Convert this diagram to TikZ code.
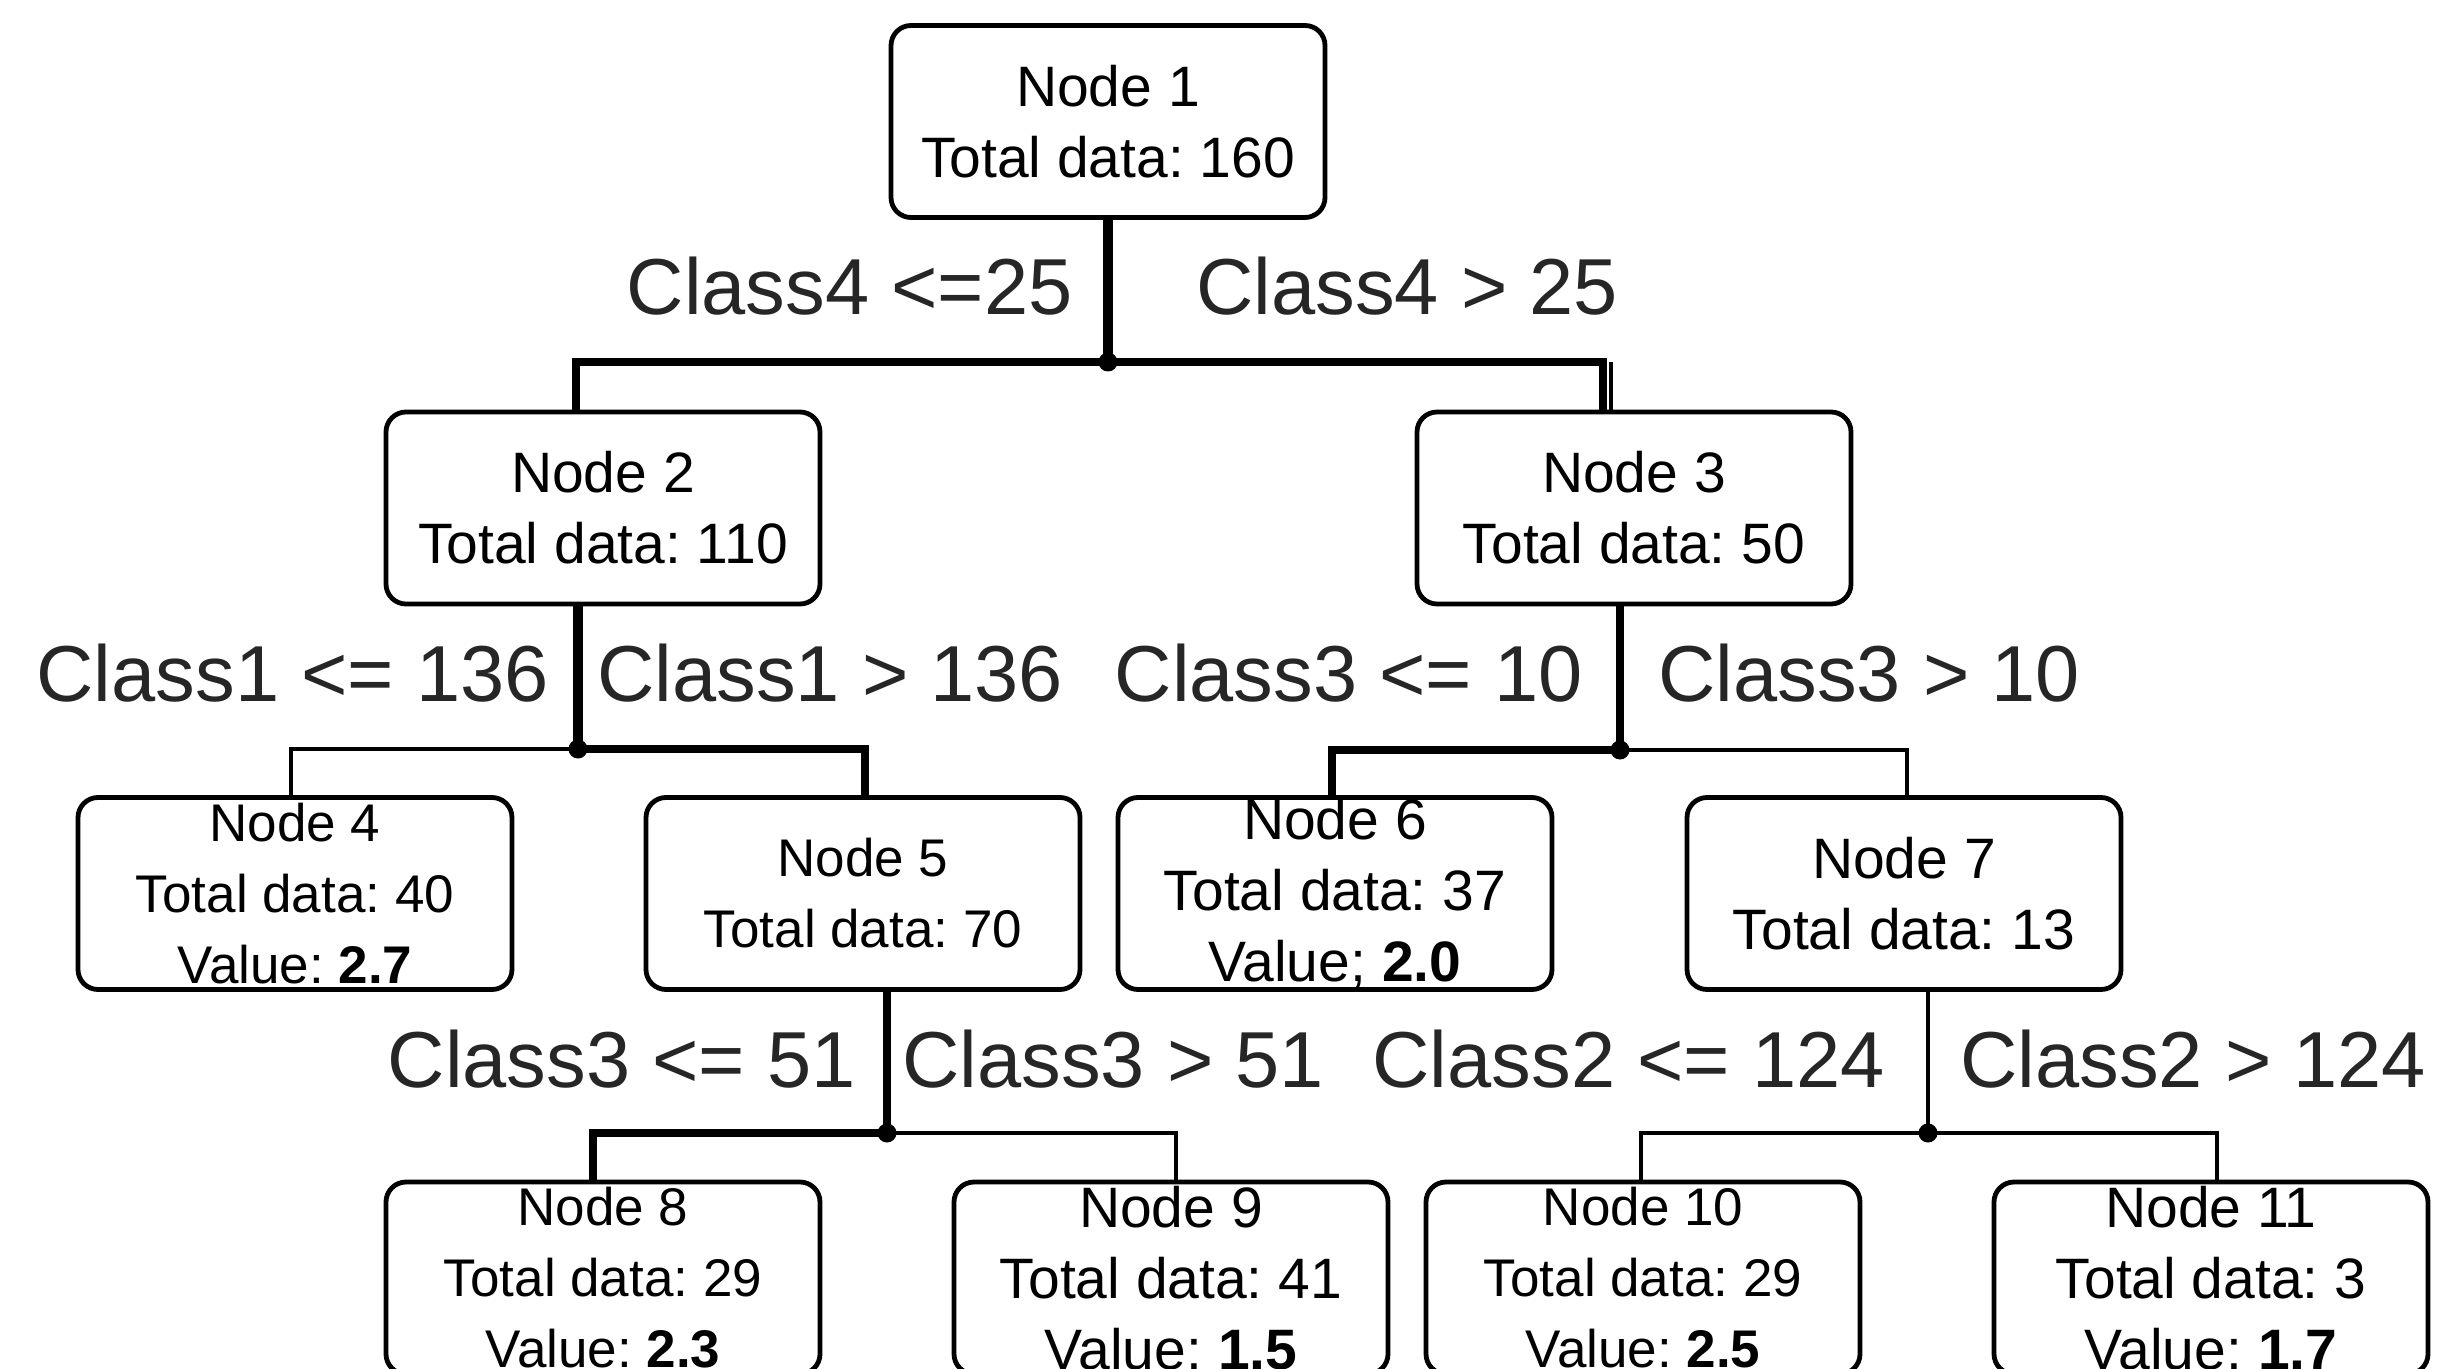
\documentclass[tikz,border=0pt]{standalone}
\usepackage{fontspec}
\setmainfont{Liberation Sans}
\frenchspacing
\begin{document}
\begin{tikzpicture}[x=0.5pt,y=-0.5pt,
  treenode/.style={draw=black, line width=2.4pt, rounded corners=10pt, fill=white,
    minimum width=217pt, minimum height=96pt, inner sep=0pt, align=center,
    font=\fontsize{28.5}{35.5}\selectfont},
  smalltext/.style={font=\fontsize{26.5}{35.5}\selectfont},
  split/.style={inner sep=0pt, text=black!85, font=\fontsize{39.7}{48}\selectfont},
  stem/.style={line width=4.8pt},
  heavy/.style={line width=4.4pt, line cap=butt},
  light/.style={line width=2.2pt},
  joint/.style={fill=black},
]
\clip (0,0) rectangle (2439,1369);
\fill[white] (0,0) rectangle (2439,1369);

% tree nodes
\node[treenode] (n1)  at (1108,121.5) {Node 1\\Total data: 160};
\node[treenode] (n2)  at (603,508)    {Node 2\\Total data: 110};
\node[treenode] (n3)  at (1634,508)   {Node 3\\Total data: 50};
\node[treenode, smalltext] (n4)  at (295,893.5)  {Node 4\\Total data: 40\\Value: \textbf{2.7}};
\node[treenode, smalltext] (n5)  at (863,893.5)  {Node 5\\Total data: 70};
\node[treenode] (n6)  at (1335,893.5) {Node 6\\Total data: 37\\Value; \textbf{2.0}};
\node[treenode] (n7)  at (1904,893.5) {Node 7\\Total data: 13};
\node[treenode, smalltext] (n8)  at (603,1278)   {Node 8\\Total data: 29\\Value: \textbf{2.3}};
\node[treenode] (n9)  at (1171,1278)  {Node 9\\Total data: 41\\Value: \textbf{1.5}};
\node[treenode, smalltext] (n10) at (1643,1278)  {Node 10\\Total data: 29\\Value: \textbf{2.5}};
\node[treenode] (n11) at (2211,1278)  {Node 11\\Total data: 3\\Value: \textbf{1.7}};

% junction points and drop columns
\coordinate (j1) at (1108,362);
\coordinate (j2) at (578,749);
\coordinate (j3) at (1620,750);
\coordinate (j5) at (887,1133);
\coordinate (j7) at (1928,1133);
\coordinate (d2) at (576,0);
\coordinate (d3) at (1603,0);
\coordinate (d3b) at (1611,0);
\coordinate (d4) at (291,0);
\coordinate (d5) at (865,0);
\coordinate (d6) at (1332,0);
\coordinate (d7) at (1907,0);
\coordinate (d8) at (593,0);
\coordinate (d9) at (1176,0);
\coordinate (d10) at (1641,0);
\coordinate (d11) at (2217,0);

% level 1
\draw[stem] (n1.south) -- (j1);
\draw[heavy] (j1) -| (d2 |- n2.north);
\draw[heavy] (j1) -| (d3 |- n3.north);
\draw[light] (d3b |- j1) -- (d3b |- n3.north);
\fill[joint] (j1) circle[radius=4.75pt];

% level 2, left
\draw[stem] (j2 |- n2.south) -- (j2);
\draw[light] (j2) -| (d4 |- n4.north);
\draw[heavy] (j2) -| (d5 |- n5.north);
\fill[joint] (j2) circle[radius=4.75pt];

% level 2, right
\draw[line width=4.3pt] (j3 |- n3.south) -- (j3);
\draw[heavy] (j3) -| (d6 |- n6.north);
\draw[light] (j3) -| (d7 |- n7.north);
\fill[joint] (j3) circle[radius=4.75pt];

% level 3, left
\draw[line width=4.3pt] (j5 |- n5.south) -- (j5);
\draw[heavy] (j5) -| (d8 |- n8.north);
\draw[light] (j5) -| (d9 |- n9.north);
\fill[joint] (j5) circle[radius=4.75pt];

% level 3, right
\draw[light] (j7 |- n7.south) -- (j7);
\draw[light] (j7) -| (d10 |- n10.north);
\draw[light] (j7) -| (d11 |- n11.north);
\fill[joint] (j7) circle[radius=4.75pt];

% split conditions
\node[split, anchor=base east] (c1l) at (1073,315) {Class4 <=25};
\node[split, anchor=base west] (c1r) at (1196,315) {Class4 > 25};
\node[split, anchor=base east] (c2l) at (549,701) {Class1 <= 136};
\node[split, anchor=base west] (c2r) at (597,701) {Class1 > 136};
\node[split, anchor=base east] (c3l) at (1583,701) {Class3 <= 10};
\node[split, anchor=base west] (c3r) at (1658,701) {Class3 > 10};
\node[split, anchor=base east] (c5l) at (856,1087) {Class3 <= 51};
\node[split, anchor=base west] (c5r) at (902,1087) {Class3 > 51};
\node[split, anchor=base east] (c7l) at (1885,1087) {Class2 <= 124};
\node[split, anchor=base west] (c7r) at (1960,1087) {Class2 > 124};
\end{tikzpicture}
\end{document}
